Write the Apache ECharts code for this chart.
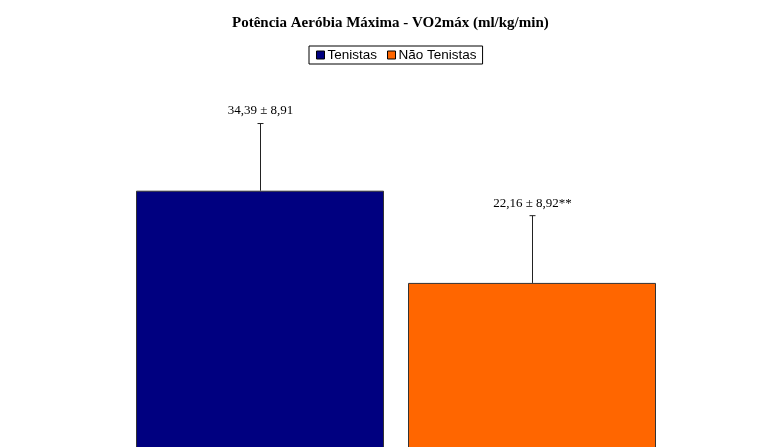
<!DOCTYPE html>
<html>
<head>
<meta charset="utf-8">
<script src="https://cdn.jsdelivr.net/npm/echarts@6/dist/echarts.min.js"></script>
<style>
  html, body { margin: 0; padding: 0; background: #fff; overflow: hidden; }
  /* o gráfico original está cortado em baixo: a base das barras fica fora da janela */
  #chart { width: 767px; height: 450px; }
</style>
</head>
<body>
<div id="chart"></div>
<script>
// dados do gráfico
const grupos = ['Tenistas', 'Não Tenistas'];
const medias = [34.39, 22.16];
const desvios = [8.91, 8.92];
const rotulos = ['34,39 ± 8,91', '22,16 ± 8,92**'];
const cores = ['#000080', '#FF6600'];

const myChart = echarts.init(document.getElementById('chart'));

// uma série por grupo, cada uma só com o seu valor
let series = grupos.map(function (g, i) {
    return {
        name: g,
        type: 'bar',
        stack: 'total',
        barWidth: 248,
        data: grupos.map(function (x, j) { return j === i ? medias[i] : '-'; }),
        itemStyle: { color: cores[i], borderColor: '#333', borderWidth: 1 }
    };
});

// barras de erro
series.push({
    type: 'custom',
    silent: true,
    data: medias.map(function (m, i) { return [i, m, m + desvios[i]]; }),
    renderItem: function (params, api) {
        let base = api.coord([api.value(0), api.value(1)]);
        let top = api.coord([api.value(0), api.value(2)]);
        let x = Math.round(base[0]) + 0.5;
        return {
            type: 'group',
            children: [
                { type: 'line', shape: { x1: x, y1: base[1], x2: x, y2: top[1] },
                  style: { stroke: '#222', lineWidth: 1 } },
                { type: 'line', shape: { x1: x - 3, y1: top[1], x2: x + 3, y2: top[1] },
                  style: { stroke: '#222', lineWidth: 1 } },
                { type: 'text', x: x, y: top[1] - 6,
                  style: { text: rotulos[params.dataIndex], fill: '#000',
                           font: '13px "Liberation Serif", serif',
                           textAlign: 'center', textVerticalAlign: 'bottom' } }
            ]
        };
    },
    z: 5
});

let option = {
    animation: false,
    title: {
        text: 'Potência Aeróbia Máxima - VO2máx (ml/kg/min)',
        left: 227,
        top: 11,
        textStyle: {
            fontFamily: '"Liberation Serif", serif',
            fontSize: 15,
            fontWeight: 'bold',
            color: '#000'
        }
    },
    legend: {
        data: grupos,
        left: 309,
        top: 46,
        itemWidth: 8,
        itemHeight: 8,
        itemGap: 10,
        padding: [2, 6, 2, 7],
        borderColor: '#000',
        borderWidth: 1,
        icon: 'rect',
        itemStyle: { borderColor: '#000', borderWidth: 1 },
        textStyle: {
            fontFamily: '"Liberation Sans", Arial, sans-serif',
            fontSize: 13.5,
            color: '#000',
            padding: [0, 0, 0, -2]
        }
    },
    grid: { left: 124, right: 99, top: 73, bottom: 0 },
    xAxis: {
        type: 'category',
        data: grupos,
        show: false
    },
    yAxis: {
        type: 'value',
        min: 0,
        max: 50,
        show: false
    },
    series: series
};

myChart.setOption(option);
</script>
</body>
</html>
